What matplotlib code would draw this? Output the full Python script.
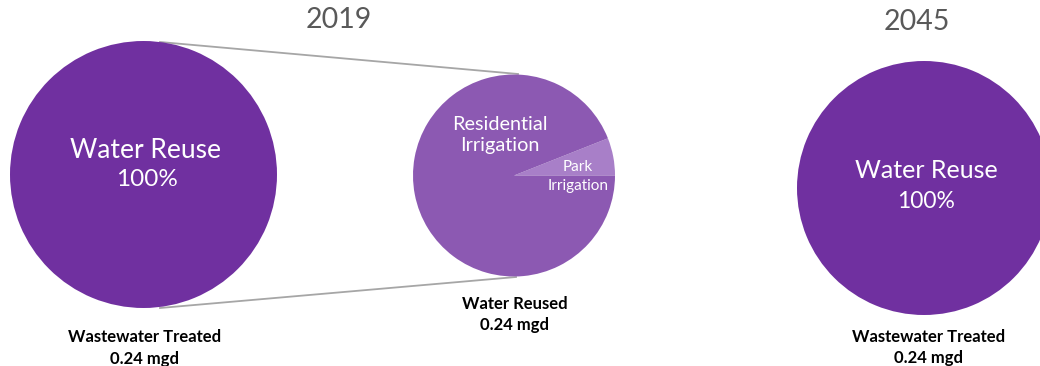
import matplotlib
matplotlib.use("Agg")
import matplotlib.pyplot as plt

plt.rcParams['font.family'] = ['Lato', 'DejaVu Sans']

# Data
years = ["2019", "2045"]
treated_label = "Wastewater Treated"
treated_mgd = [0.24, 0.24]
reuse_share = [100, 100]          # % of treated wastewater reused
reuse_name = "Water Reuse"
reused_label = "Water Reused"
reused_mgd = 0.24
use_names = ["Park\nIrrigation", "Residential\nIrrigation"]
use_share = [6, 94]               # % of 2019 reused water

W, H = 1040, 366
fig = plt.figure(figsize=(W / 100, H / 100), dpi=100)
ax = fig.add_axes([0, 0, 1, 1])

def Y(py):
    return H - py

dark = '#7030a0'
mid = '#8c59b2'
light = '#a87fc8'

# Connector lines between the 2019 totals pie and its breakdown
ax.plot([160, 518], [Y(42), Y(74)], color='#a6a6a6', lw=1.3, zorder=1)
ax.plot([160, 516], [Y(308), Y(277)], color='#a6a6a6', lw=1.3, zorder=1)

# 2019 total
ax.pie([reuse_share[0]], colors=[dark], radius=133.5, center=(143.5, Y(174.5)),
       frame=True, wedgeprops=dict(linewidth=0))
# 2019 breakdown
ax.pie(use_share, colors=[light, mid], radius=101, center=(514, Y(175.5)),
       startangle=0, counterclock=True, frame=True, wedgeprops=dict(linewidth=0))
# 2045 total
ax.pie([reuse_share[1]], colors=[dark], radius=127, center=(924, Y(188)),
       frame=True, wedgeprops=dict(linewidth=0))

ax.set_xlim(0, W)
ax.set_ylim(0, H)
ax.set_aspect('equal')
ax.axis('off')

title_kw = dict(color='#595959', fontsize=20.5, ha='center', va='center')
ax.text(339, Y(20), years[0], **title_kw)
ax.text(917, Y(22), years[1], **title_kw)

ax.text(146, Y(151), reuse_name, color='white', fontsize=19, ha='center', va='center')
ax.text(147, Y(180), f"{reuse_share[0]}%", color='white', fontsize=17.5, ha='center', va='center')
ax.text(926, Y(170), reuse_name, color='white', fontsize=18, ha='center', va='center')
ax.text(926, Y(201), f"{reuse_share[1]}%", color='white', fontsize=16.5, ha='center', va='center')

ax.text(500, Y(135), use_names[1], color='white', fontsize=14.3, ha='center', va='center',
        linespacing=1.35)
ax.text(578, Y(176.5), use_names[0], color='white', fontsize=11, ha='center', va='center',
        linespacing=1.4)

bold_kw = dict(color='black', fontsize=12, fontweight='bold', ha='center', va='center')
ax.text(145, Y(337), treated_label, **bold_kw)
ax.text(145, Y(359), f"{treated_mgd[0]:.2f} mgd", **bold_kw)
ax.text(515, Y(304), reused_label, **bold_kw)
ax.text(515, Y(325), f"{reused_mgd:.2f} mgd", **bold_kw)
ax.text(929, Y(337), treated_label, **bold_kw)
ax.text(929, Y(358), f"{treated_mgd[1]:.2f} mgd", **bold_kw)

fig.savefig("out.png", dpi=100)
